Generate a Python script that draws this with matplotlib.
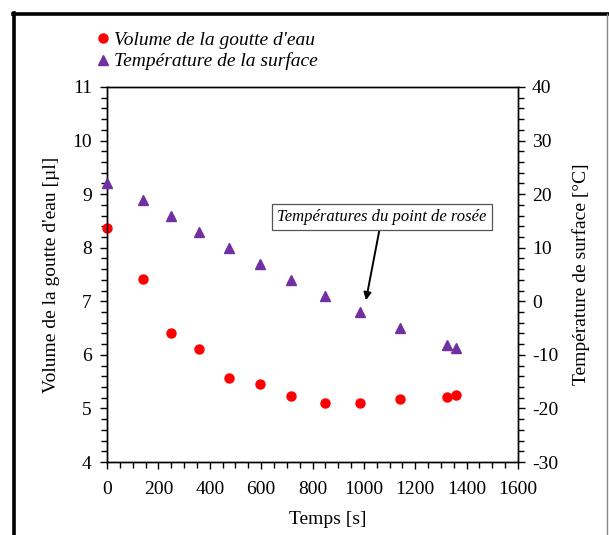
import matplotlib
matplotlib.use("Agg")
import matplotlib.pyplot as plt
from matplotlib.lines import Line2D
from matplotlib.ticker import MultipleLocator, AutoMinorLocator

plt.rcParams["font.family"] = ["Liberation Serif", "DejaVu Serif"]
plt.rcParams["axes.unicode_minus"] = False

# données
temps = [0, 140, 248, 357, 476, 596, 718, 849, 984, 1142, 1323, 1360]
volume = [8.36, 7.41, 6.40, 6.11, 5.57, 5.46, 5.23, 5.10, 5.10, 5.18, 5.22, 5.26]
temp_surface = [22, 19, 16, 13, 10, 7, 4, 1, -2, -5, -8.2, -8.8]

ROUGE = "#FF0000"
VIOLET = "#7030A0"
FS = 14

fig = plt.figure(figsize=(6.09, 5.35), dpi=100)
ax = fig.add_axes([0.1757, 0.1364, 0.6749, 0.701])
ax2 = ax.twinx()

ax.plot(temps, volume, "o", color=ROUGE, ms=6.5, mec=ROUGE, clip_on=False, zorder=3)
ax2.plot(temps, temp_surface, "^", color=VIOLET, ms=7, mec=VIOLET, clip_on=False, zorder=3)

ax.set_xlim(0, 1600)
ax.set_ylim(4, 11)
ax2.set_ylim(-30, 40)
ax.xaxis.set_major_locator(MultipleLocator(200))
ax.xaxis.set_minor_locator(AutoMinorLocator(4))
ax.yaxis.set_major_locator(MultipleLocator(1))
ax.yaxis.set_minor_locator(AutoMinorLocator(5))
ax2.yaxis.set_major_locator(MultipleLocator(10))
ax2.yaxis.set_minor_locator(AutoMinorLocator(5))

for a in (ax, ax2):
    a.tick_params(which="major", direction="out", length=5, width=1, labelsize=FS, pad=6)
    a.tick_params(which="minor", direction="out", length=4, width=1)
    for s in a.spines.values():
        s.set_linewidth(1)
ax.tick_params(axis="x", which="major", pad=9)
ax2.tick_params(axis="y", which="major", pad=5)

ax.set_xlabel("Temps [s]")
ax.xaxis.label.set_fontsize(FS)
ax.xaxis.set_label_coords(0.538, -0.13)
ax.set_ylabel("Volume de la goutte d'eau [µl]", fontsize=FS, labelpad=9)
ax2.set_ylabel("Température de surface [°C]", fontsize=FS, labelpad=10)

ax.annotate("Températures du point de rosée", xy=(1008, 7.02), xytext=(1070, 8.57),
            fontsize=12, style="italic", ha="center", va="center",
            bbox=dict(boxstyle="square,pad=0.3", fc="white", ec="#555555", lw=0.9),
            arrowprops=dict(arrowstyle="-|>", color="black", lw=1.4, mutation_scale=11,
                            shrinkA=0, shrinkB=0))

handles = [Line2D([0], [0], marker="o", ls="", color=ROUGE, ms=6.5),
           Line2D([0], [0], marker="^", ls="", color=VIOLET, ms=7)]
fig.legend(handles, ["Volume de la goutte d'eau", "Température de la surface"],
           loc="upper left", bbox_to_anchor=(97 / 609, 1 - 31 / 535), frameon=False,
           prop={"style": "italic", "size": FS}, handlelength=0.6,
           handletextpad=0.25, labelspacing=0.2, borderaxespad=0, borderpad=0)

# cadre de la figure
fig.add_artist(Line2D([14 / 609, 14 / 609], [0, 1 - 13 / 535], color="black", lw=2.6,
                      transform=fig.transFigure))
fig.add_artist(Line2D([13 / 609, 1], [1 - 14 / 535, 1 - 14 / 535], color="black", lw=2.6,
                      transform=fig.transFigure))
fig.add_artist(Line2D([607 / 609, 607 / 609], [0, 1 - 14 / 535], color="#888888", lw=1,
                      transform=fig.transFigure))

fig.savefig("out.png", dpi=100)
